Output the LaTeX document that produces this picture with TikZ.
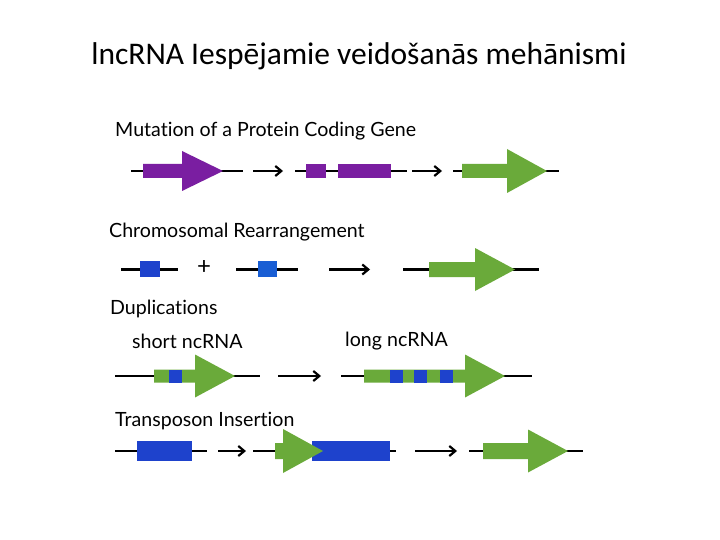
\documentclass[tikz,border=0pt]{standalone}
\usepackage{fontspec}
\setmainfont{Lato}[Ligatures=NoCommon]
\newfontfamily\titlefont{Carlito}
\usetikzlibrary{arrows.meta}
\definecolor{gpurple}{HTML}{7A1EA1}
\definecolor{ggreen}{HTML}{6AAA3A}
\definecolor{gblue}{HTML}{1E42CC}
\newcommand{\genearrow}[7]{% color, x0, xb, xt, yc, bodyhalf, headhalf
  \fill[#1] (#2,#5-#6) -- (#3,#5-#6) -- (#3,#5-#7) -- (#4,#5) -- (#3,#5+#7) -- (#3,#5+#6) -- (#2,#5+#6) -- cycle;}
\tikzset{
  dna/.style={line width=2.2pt, black},
  step arrow/.style={line width=2.2pt, black, -{Straight Barb[length=6pt,width=10pt]}},
  lbl/.style={anchor=west, inner sep=0pt, font=\fontsize{19.6}{22}\selectfont}
}
\begin{document}
\begin{tikzpicture}[x=1pt,y=-1pt]
\useasboundingbox (0,0) rectangle (720,540);
\fill[white] (0,0) rectangle (720,540);
\node[anchor=base, inner sep=0pt, font=\titlefont\fontsize{31.5}{34}\selectfont] (title) at (359,65) {lncRNA Iespējamie veidošanās mehānismi};

% Row 1
\node[lbl] (l1) at (115,131) {Mutation of a Protein Coding Gene};
\draw[dna] (131,171) -- (243,171);
\genearrow{gpurple}{143}{182}{223}{171}{7}{20}
\coordinate (a1s) at (253,171); \coordinate (a1e) at (283,171);
\draw[step arrow] (a1s) -- (a1e);
\draw[dna] (295,171) -- (407,171);
\fill[gpurple] (306,164) rectangle (326,178);
\fill[gpurple] (338,164) rectangle (391,178);
\coordinate (a2s) at (412,171); \coordinate (a2e) at (442,171);
\draw[step arrow] (a2s) -- (a2e);
\draw[dna] (453,171) -- (559,171);
\genearrow{ggreen}{462}{507}{547}{171}{7}{22}

% Row 2
\node[lbl] (l2) at (109,232) {Chromosomal Rearrangement};
\draw[dna] (121,269.5) -- (178,269.5);
\fill[gblue] (140,261) rectangle (160,277);
\node[font=\fontsize{24}{26}\selectfont, inner sep=0pt] (plus) at (204,268) {+};
\draw[dna] (236,269.5) -- (298,269.5);
\fill[gblue!85!cyan] (258,261) rectangle (277,277);
\coordinate (a3s) at (329,269.5); \coordinate (a3e) at (370,269.5);
\draw[step arrow] (a3s) -- (a3e);
\draw[dna] (403,269.5) -- (539,269.5);
\genearrow{ggreen}{429}{475}{515}{269.5}{7.5}{21.5}

% Row 3
\node[lbl] (l3) at (110,309) {Duplications};
\node[lbl] (l3a) at (132,341) {short ncRNA};
\node[lbl] (l3b) at (345,341) {long ncRNA};
\draw[dna] (115,376) -- (260,376);
\genearrow{ggreen}{154}{195}{235}{376}{6.5}{21.5}
\fill[gblue] (169,369.5) rectangle (182,382.5);
\coordinate (a4s) at (278,376); \coordinate (a4e) at (321,376);
\draw[step arrow] (a4s) -- (a4e);
\draw[dna] (341,376) -- (532,376);
\genearrow{ggreen}{364}{465}{505}{376}{6.5}{21.5}
\fill[gblue] (390,369.5) rectangle (403,382.5);
\fill[gblue] (414,369.5) rectangle (427,382.5);
\fill[gblue] (440,369.5) rectangle (453,382.5);

% Row 4
\node[lbl] (l4) at (115,421) {Transposon Insertion};
\draw[dna] (115,451) -- (207,451);
\fill[gblue] (137,441) rectangle (192,461);
\coordinate (a5s) at (218,451); \coordinate (a5e) at (246,451);
\draw[step arrow] (a5s) -- (a5e);
\draw[dna] (253,451) -- (396,451);
\fill[gblue] (312,441) rectangle (390,461);
\genearrow{ggreen}{275}{283}{323}{451}{8}{22}
\coordinate (a6s) at (415,451); \coordinate (a6e) at (457,451);
\draw[step arrow] (a6s) -- (a6e);
\draw[dna] (469,451) -- (583,451);
\genearrow{ggreen}{483}{528}{568}{451}{8}{21.5}
\end{tikzpicture}
\end{document}
